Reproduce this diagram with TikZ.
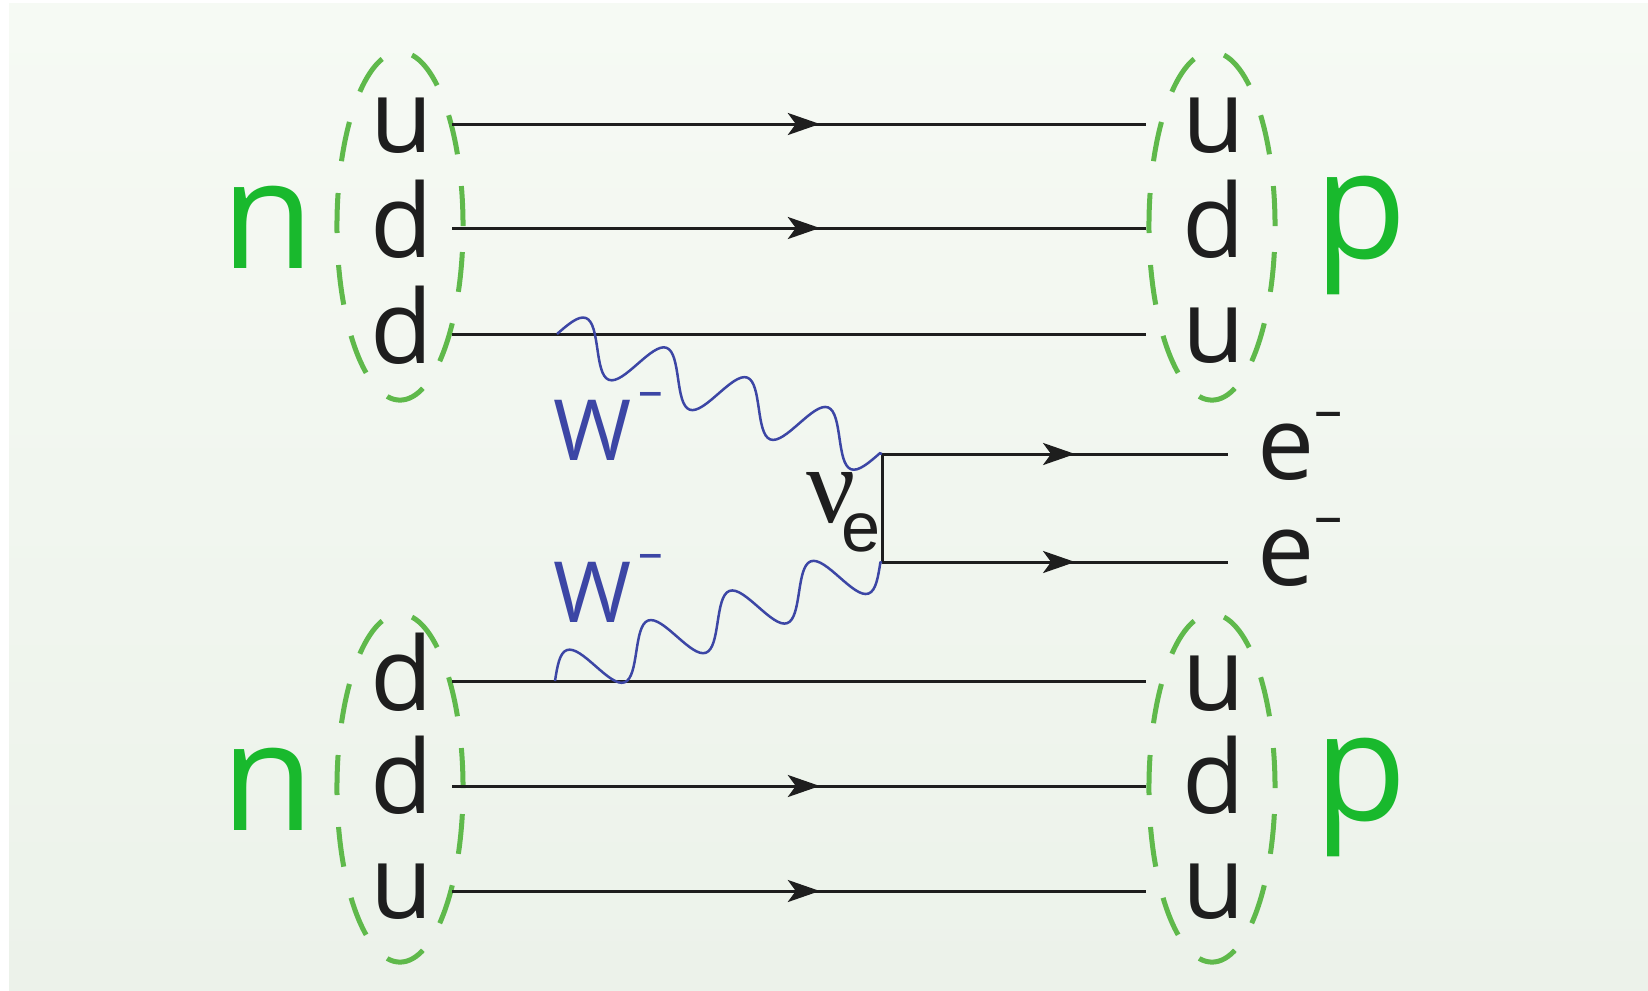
\documentclass[tikz,border=0pt]{standalone}
\usepackage{fontspec}
\setmainfont{Open Sans}
\newfontfamily\nufont{Liberation Serif}
\newfontfamily\subfont{Liberation Sans}
\usetikzlibrary{shapes.geometric,decorations.pathmorphing,decorations.markings,arrows.meta}
\definecolor{bgtop}{RGB}{246,250,244}
\definecolor{bgbot}{RGB}{236,242,234}
\definecolor{hadron}{RGB}{25,185,45}
\definecolor{ring}{RGB}{95,185,75}
\definecolor{boson}{RGB}{60,70,165}
\definecolor{ink}{RGB}{30,30,30}
\pgfdeclaredecoration{sinewave}{wave}{
  \state{wave}[width=+\pgfdecorationsegmentlength,next state=wave,
               switch if less than=+\pgfdecorationsegmentlength to final]{
    \pgfpathcurveto{\pgfpoint{.0815\pgfdecorationsegmentlength}{.5123\pgfdecorationsegmentamplitude}}
                   {\pgfpoint{.1595\pgfdecorationsegmentlength}{\pgfdecorationsegmentamplitude}}
                   {\pgfpoint{.25\pgfdecorationsegmentlength}{\pgfdecorationsegmentamplitude}}
    \pgfpathcurveto{\pgfpoint{.3405\pgfdecorationsegmentlength}{\pgfdecorationsegmentamplitude}}
                   {\pgfpoint{.4185\pgfdecorationsegmentlength}{.5123\pgfdecorationsegmentamplitude}}
                   {\pgfpoint{.5\pgfdecorationsegmentlength}{0pt}}
    \pgfpathcurveto{\pgfpoint{.5815\pgfdecorationsegmentlength}{-.5123\pgfdecorationsegmentamplitude}}
                   {\pgfpoint{.6595\pgfdecorationsegmentlength}{-\pgfdecorationsegmentamplitude}}
                   {\pgfpoint{.75\pgfdecorationsegmentlength}{-\pgfdecorationsegmentamplitude}}
    \pgfpathcurveto{\pgfpoint{.8405\pgfdecorationsegmentlength}{-\pgfdecorationsegmentamplitude}}
                   {\pgfpoint{.9185\pgfdecorationsegmentlength}{-.5123\pgfdecorationsegmentamplitude}}
                   {\pgfpoint{\pgfdecorationsegmentlength}{0pt}}
  }
  \state{final}{\pgfpathlineto{\pgfpointdecoratedpathlast}}
}
\begin{document}
\begin{tikzpicture}[x=0.01cm,y=-0.01cm,
  quark/.style={anchor=base,inner sep=0pt,text=ink,font=\fontsize{29pt}{30pt}\selectfont},
  hadronlbl/.style={anchor=base,inner sep=0pt,text=hadron,font=\fontsize{43pt}{44pt}\selectfont},
  bag/.style={ellipse,draw=ring,line width=0.05cm,dash pattern=on 0.40cm off 0.32cm,minimum width=1.26cm,minimum height=3.48cm,inner sep=0pt},
  fermion/.style={draw=ink,line width=0.03cm},
  arrowmid/.style={postaction={decorate},decoration={markings,mark=at position #1 with {\arrow{Stealth[length=0.32cm,width=0.22cm,inset=0.08cm]}}}},
  wboson/.style={draw=boson,line width=0.025cm,decorate,decoration={sinewave,segment length=#1,amplitude=0.25cm}},
  wlabel/.style={anchor=base west,inner sep=0pt,text=boson,font=\fontsize{24pt}{25pt}\selectfont},
  elabel/.style={anchor=base west,inner sep=0pt,text=ink,font=\fontsize{29pt}{30pt}\selectfont},
]
\useasboundingbox (0,0) rectangle (1648,990);
\fill[white] (0,0) rectangle (1648,990);
\begin{scope}[y=0.01cm]
\shade[top color=bgtop,bottom color=bgbot] (9,-3) rectangle (1648,-990);
\end{scope}

% bags
\node[bag] (bagNt) at (400,226) {};
\node[bag] (bagNb) at (400,788) {};
\node[bag] (bagPt) at (1212,226) {};
\node[bag] (bagPb) at (1212,788) {};

% hadron labels
\node[hadronlbl] (n1) at (268,268) {n};
\node[hadronlbl] (n2) at (268,830) {n};
\node[hadronlbl] (p1) at (1361,258) {p};
\node[hadronlbl] (p2) at (1361,820) {p};

% quarks left
\node[quark] (a1) at (402,152) {u};
\node[quark] (a2) at (402,257) {d};
\node[quark] (a3) at (402,363) {d};
\node[quark] (b1) at (402,710) {d};
\node[quark] (b2) at (402,813) {d};
\node[quark] (b3) at (402,918) {u};
% quarks right
\node[quark] (c1) at (1214,152) {u};
\node[quark] (c2) at (1214,257) {d};
\node[quark] (c3) at (1214,362) {u};
\node[quark] (d1) at (1214,710) {u};
\node[quark] (d2) at (1214,813) {d};
\node[quark] (d3) at (1214,918) {u};

% line end points
\coordinate (L1) at (452,124); \coordinate (R1) at (1146,124);
\coordinate (L2) at (452,228); \coordinate (R2) at (1146,228);
\coordinate (L3) at (452,334); \coordinate (R3) at (1146,334);
\coordinate (L4) at (452,681); \coordinate (R4) at (1146,681);
\coordinate (L5) at (452,786); \coordinate (R5) at (1146,786);
\coordinate (L6) at (452,891); \coordinate (R6) at (1146,891);
\coordinate (V1) at (882,454); \coordinate (E1) at (1228,454);
\coordinate (V2) at (882,562); \coordinate (E2) at (1228,562);
\coordinate (W1) at (557,334);
\coordinate (W2) at (555,681);

\draw[fermion,arrowmid=0.53] (L1) -- (R1);
\draw[fermion,arrowmid=0.53] (L2) -- (R2);
\draw[fermion] (L3) -- (R3);
\draw[fermion] (L4) -- (R4);
\draw[fermion,arrowmid=0.53] (L5) -- (R5);
\draw[fermion,arrowmid=0.53] (L6) -- (R6);

\draw[fermion] (V1) -- (V2);
\draw[fermion,arrowmid=0.558] (V1) -- (E1);
\draw[fermion,arrowmid=0.558] (V2) -- (E2);

\begin{scope}[x=1cm,y=1cm]
\draw[wboson=0.86cm] (W1) -- (V1);
\draw[wboson=0.865cm] (W2) -- (V2);
\end{scope}

\node[wlabel] (wt) at (553,460) {W\hspace{2pt}\raisebox{15pt}{\fontsize{14pt}{14pt}\selectfont –}};
\node[wlabel] (wb) at (553,622) {W\hspace{2pt}\raisebox{15pt}{\fontsize{14pt}{14pt}\selectfont –}};

\node[anchor=base west,inner sep=0pt,text=ink] (nu) at (806,522) {{\nufont\fontsize{31pt}{31pt}\selectfont ν}\hspace{-4pt}\raisebox{-8.5pt}{\subfont\fontsize{20pt}{20pt}\selectfont e}};

\node[elabel] (e1) at (1257,479) {e\raisebox{14pt}{\fontsize{16pt}{16pt}\selectfont –}};
\node[elabel] (e2) at (1257,585) {e\raisebox{14pt}{\fontsize{16pt}{16pt}\selectfont –}};
\end{tikzpicture}
\end{document}
